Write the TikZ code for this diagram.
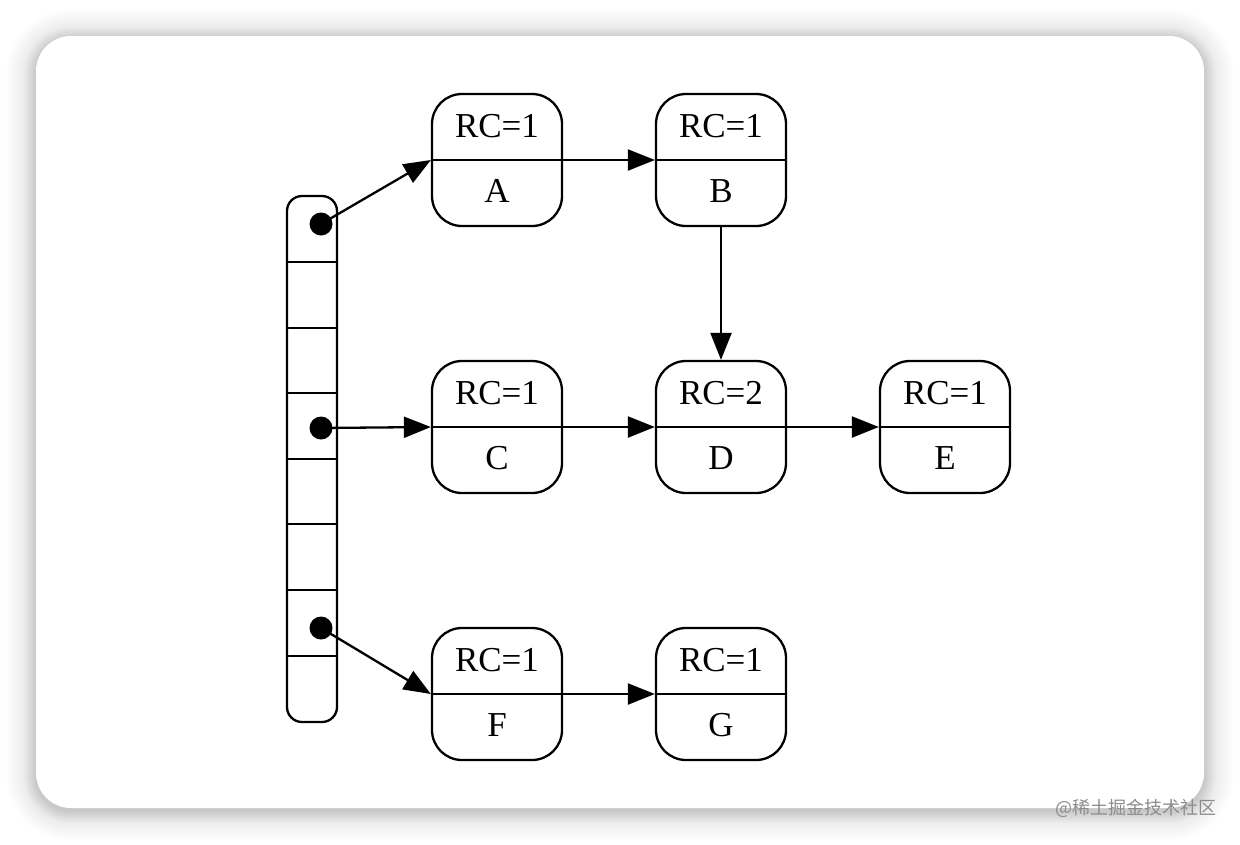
\documentclass[tikz,border=0pt]{standalone}
\usepackage{fontspec}
\setmainfont{Liberation Serif}
\newfontfamily\cjkfont{Noto Sans CJK SC}
\usetikzlibrary{arrows.meta}
\begin{document}
\begin{tikzpicture}[x=1pt,y=-1pt,
  obj/.style={draw, line width=2.3pt, rounded corners=30pt, minimum width=130pt, minimum height=132pt, inner sep=0pt},
  txt/.style={font=\fontsize{35}{40}\selectfont, inner sep=0pt},
  arr/.style={line width=2.3pt, -{Triangle[length=27pt,width=21pt]}},
  dot/.style={circle, fill=black, minimum size=23pt, inner sep=0pt},
  ln/.style={line width=2.3pt}]
\useasboundingbox (0,0) rectangle (1240,844);
% shadow
\foreach \i in {1,...,30}{
  \pgfmathsetmacro\rr{35+\i}
  \fill[black, opacity=0.0048, rounded corners=\rr pt] ({36-\i},{39-\i}) rectangle ({1204+\i},{811+\i});
}
\foreach \i in {1,...,12}{
  \pgfmathsetmacro\rr{35+\i}
  \fill[black, opacity=0.006, rounded corners=\rr pt] ({36-\i},{39-\i}) rectangle ({1204+\i},{811+\i});
}
\fill[white, rounded corners=35pt] (36,36) rectangle (1204,808);
% array
\node[draw, line width=2.3pt, rounded corners=15pt, minimum width=50pt, minimum height=526pt, inner sep=0pt] (arr) at (312,459) {};
\foreach \yy in {262,328,393,459,524,590,656}{
  \draw[ln] (arr.west |- 0,\yy) -- (arr.east |- 0,\yy);
}
\node[dot] (d1) at (321,224) {};
\node[dot] (d2) at (321,428) {};
\node[dot] (d3) at (321,628) {};
% objects
\foreach \n/\x/\y/\rc in {A/497/160/1, B/721/160/1, C/497/427/1, D/721/427/2, E/945/427/1, F/497/694/1, G/721/694/1}{
  \node[obj] (\n) at (\x,\y) {};
  \draw[ln] (\n.west) -- (\n.east);
  \node[txt] (\n-rc) at ([yshift=34pt]\n.center) {RC=\rc};
  \node[txt] (\n-nm) at ([yshift=-31pt]\n.center) {\n};
}
% edges
\draw[arr] (d1.center) -- (A.west);
\draw[arr] (d2.center) -- (C.west);
\draw[arr] (d3.center) -- (F.west);
\draw[arr] (A.east) -- (B.west);
\draw[arr] (B.south) -- (D.north);
\draw[arr] (C.east) -- (D.west);
\draw[arr] (D.east) -- (E.west);
\draw[arr] (F.east) -- (G.west);
% watermark
\node[anchor=east, text=black!45, font=\cjkfont\fontsize{18}{20}\selectfont, inner sep=0pt] (wm) at (1217,808) {@稀土掘金技术社区};
\end{tikzpicture}
\end{document}
